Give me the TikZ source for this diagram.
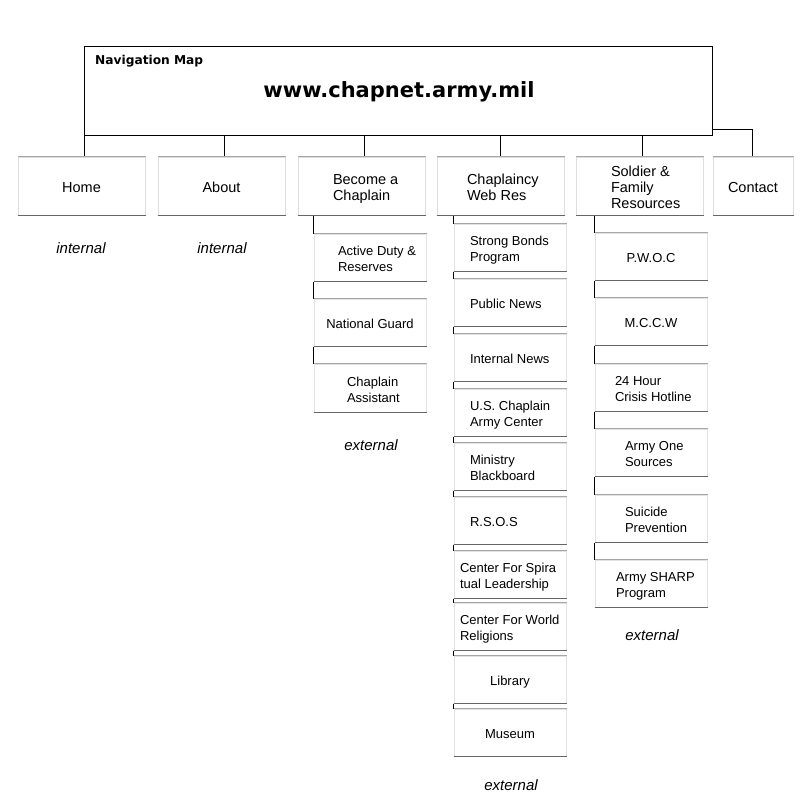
\documentclass[tikz,border=0pt]{standalone}
\usepackage{fontspec}
\setmainfont{Liberation Sans}
\newfontfamily\titlefont{DejaVu Sans}
\newcommand\boxtxt[3]{\raisebox{-3pt}[\height][\depth]{\makebox[#1][l]{\hspace*{#2}\begin{tabular}{@{}l@{}}#3\end{tabular}}}}
\newcommand\ctxt[1]{\raisebox{-3pt}[\height][\depth]{\begin{tabular}{@{}c@{}}#1\end{tabular}}}
\begin{document}
\begin{tikzpicture}[x=1pt,y=-1pt,
  topbox/.style={draw=black, line width=1pt, fill=white, minimum width=628pt, minimum height=88pt, inner sep=0},
  lvl/.style={draw=black!13, line width=1pt, fill=white, minimum width=127pt, minimum height=58pt, inner sep=0, font=\fontsize{14.5}{16}\selectfont},
  child/.style={draw=black!11, line width=1pt, fill=white, minimum width=112pt, minimum height=47pt, inner sep=0, font=\fontsize{13}{16}\selectfont},
  note/.style={font=\itshape\fontsize{15}{17}\selectfont},
  conn/.style={draw=black, line width=1pt},
  edgetop/.style={draw=black!35, line width=1pt},
  edgebot/.style={draw=black!60, line width=1.2pt}]
\fill[white] (0,0) rectangle (800,800);
\useasboundingbox (0,0) rectangle (800,800);

% header
\node[topbox] (top) at (398,91) {};
\node[anchor=west, inner sep=0, font=\titlefont\bfseries\fontsize{12.2}{14}\selectfont] (navmap) at (95,61) {Navigation Map};
\node[font=\titlefont\bfseries\fontsize{21}{24}\selectfont] (url) at (399,91.5) {www.chapnet.army.mil};

% level 1
\node[lvl] (home) at (81.5,186) {\ctxt{Home}};
\node[lvl] (about) at (221.5,186) {\ctxt{About}};
\node[lvl] (become) at (361.5,186) {\boxtxt{127pt}{35pt}{Become a\\Chaplain}};
\node[lvl] (chap) at (500.5,186) {\boxtxt{127pt}{30pt}{Chaplaincy\\Web Res}};
\node[lvl] (sold) at (639.5,186) {\boxtxt{127pt}{35pt}{Soldier \&\\Family\\Resources}};
\node[lvl, minimum width=80pt] (contact) at (753,186) {\ctxt{Contact}};

\draw[conn] ([xshift=2.5pt]home.north |- top.south) -- ([xshift=2.5pt]home.north);
\draw[conn] ([xshift=2.5pt]about.north |- top.south) -- ([xshift=2.5pt]about.north);
\draw[conn] ([xshift=2.5pt]become.north |- top.south) -- ([xshift=2.5pt]become.north);
\draw[conn] (chap.north |- top.south) -- (chap.north);
\draw[conn] ([xshift=2.5pt]sold.north |- top.south) -- ([xshift=2.5pt]sold.north);
\draw[conn] ([yshift=6pt]top.south east) -| ([xshift=-1pt]contact.north);

% become children
\node[child] (b1) at (370,257.5) {\boxtxt{112pt}{24pt}{Active Duty \&\\Reserves}};
\node[child] (b2) at (370,322.5) {\ctxt{National Guard}};
\node[child, minimum height=48pt] (b3) at (370,388) {\boxtxt{112pt}{33pt}{Chaplain\\Assistant}};

% chaplaincy children
\node[child] (c1) at (510,247.5) {\boxtxt{112pt}{16pt}{Strong Bonds\\Program}};
\node[child] (c2) at (510,302.5) {\boxtxt{112pt}{16pt}{Public News}};
\node[child] (c3) at (510,357.5) {\boxtxt{112pt}{16pt}{Internal News}};
\node[child] (c4) at (510,412.5) {\boxtxt{112pt}{16pt}{U.S. Chaplain\\Army Center}};
\node[child] (c5) at (510,466.5) {\boxtxt{112pt}{16pt}{Ministry\\Blackboard}};
\node[child] (c6) at (510,520.5) {\boxtxt{112pt}{16pt}{R.S.O.S}};
\node[child] (c7) at (510,574.5) {\boxtxt{112pt}{6pt}{Center For Spira\\tual Leadership}};
\node[child] (c8) at (510,626.5) {\boxtxt{112pt}{6pt}{Center For World\\Religions}};
\node[child] (c9) at (510,679.5) {\ctxt{Library}};
\node[child] (c10) at (510,732.5) {\ctxt{Museum}};

% soldier children
\node[child] (s1) at (651,256.5) {\ctxt{P.W.O.C}};
\node[child] (s2) at (651,321.5) {\ctxt{M.C.C.W}};
\node[child] (s3) at (651,387.5) {\boxtxt{112pt}{20pt}{24 Hour\\Crisis Hotline}};
\node[child] (s4) at (651,452.5) {\boxtxt{112pt}{30pt}{Army One\\Sources}};
\node[child] (s5) at (651,518.5) {\boxtxt{112pt}{30pt}{Suicide\\Prevention}};
\node[child] (s6) at (651,583.5) {\boxtxt{112pt}{21pt}{Army SHARP\\Program}};

% top/bottom edges of boxes
\foreach \n in {home,about,become,chap,sold,contact,b1,b2,b3,c1,c2,c3,c4,c5,c6,c7,c8,c9,c10,s1,s2,s3,s4,s5,s6} {
  \draw[edgetop] (\n.north west) -- (\n.north east);
  \draw[edgebot] (\n.south west) -- (\n.south east);
}

% stack connectors
\draw[conn] (b1.north west |- become.south) -- (b1.north west);
\draw[conn] (b1.south west) -- (b2.north west);
\draw[conn] (b2.south west) -- (b3.north west);

\draw[conn] (c1.north west |- chap.south) -- (c1.north west);
\foreach \a/\b in {c1/c2,c2/c3,c3/c4,c4/c5,c5/c6,c6/c7,c7/c8,c8/c9,c9/c10}
  \draw[conn] (\a.south west) -- (\b.north west);

\draw[conn] (s1.north west |- sold.south) -- (s1.north west);
\foreach \a/\b in {s1/s2,s2/s3,s3/s4,s4/s5,s5/s6}
  \draw[conn] (\a.south west) -- (\b.north west);

% notes
\node[note] (n1) at (81,248) {internal};
\node[note] (n2) at (222,248) {internal};
\node[note] (n3) at (371,445) {external};
\node[note] (n4) at (511,785) {external};
\node[note] (n5) at (652,635) {external};
\end{tikzpicture}
\end{document}
